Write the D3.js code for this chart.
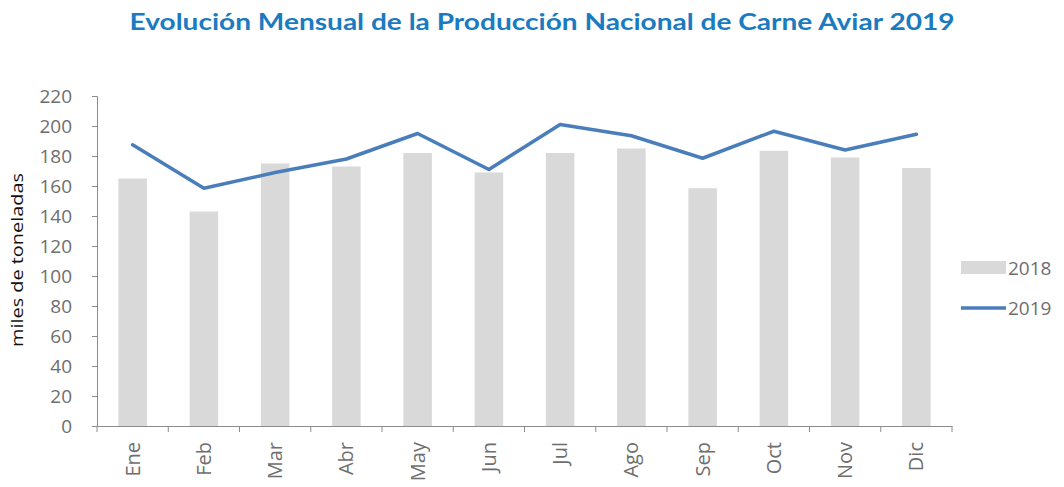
<!DOCTYPE html>
<html><head><meta charset="utf-8">
<script src="https://cdn.jsdelivr.net/npm/d3@7"></script>
<style>body{margin:0;background:#fff}svg{display:block}</style>
</head><body>
<svg id="c" width="1064" height="487"></svg>
<script>
const months = ["Ene","Feb","Mar","Abr","May","Jun","Jul","Ago","Sep","Oct","Nov","Dic"];
const values2018 = [165,143,175,173,182,169,182,185,158.5,183.5,179,172];
const values2019 = [187.5,158.5,169,178,195,171,201,193.5,178.5,196.5,184,194.5];
const yTicks = [0,20,40,60,80,100,120,140,160,180,200,220];
const seriesNames = ["2018","2019"];
const titleText = "Evolución Mensual de la Producción Nacional de Carne Aviar 2019";
const yTitle = "miles de toneladas";

(function(){
const svg = d3.select("#c");
const pLeft = 97, pRight = 952, pTop = 96, pBottom = 426;
const font = "'Open Sans', Lato, sans-serif";
const xb = d3.scaleBand().domain(months).range([pLeft,pRight]);
const y = d3.scaleLinear().domain([0,220]).range([pBottom,pTop]);

// title
svg.append("text").attr("x",542).attr("y",30).attr("text-anchor","middle")
  .attr("font-family","Lato, sans-serif").attr("font-weight","bold").attr("font-size",22)
  .attr("fill","#1b7bc0").attr("textLength",825).attr("lengthAdjust","spacingAndGlyphs").text(titleText);

// bars
svg.append("g").selectAll("rect").data(values2018).join("rect")
  .attr("x",(d,i)=>xb(months[i])+xb.bandwidth()/2-14.25).attr("width",28.5)
  .attr("y",d=>y(d)).attr("height",d=>y(0)-y(d)).attr("fill","#d9d9d9");

// line
const line = d3.line().x((d,i)=>xb(months[i])+xb.bandwidth()/2).y(d=>y(d));
svg.append("path").datum(values2019).attr("d",line).attr("fill","none")
  .attr("stroke","#4a7ebb").attr("stroke-width",3.5).attr("stroke-linejoin","round").attr("stroke-linecap","round");

// y axis
const ya = svg.append("g").attr("transform",`translate(${pLeft},0)`)
  .call(d3.axisLeft(y).tickValues(yTicks).tickSize(5).tickPadding(20));
ya.select(".domain").attr("stroke","#8c8c8c");
ya.selectAll(".tick line").attr("stroke","#8c8c8c");
ya.selectAll(".tick text").attr("font-family",font).attr("font-size",19).attr("fill","#6e6e6e");

// x axis
const xa = svg.append("g").attr("transform",`translate(0,${pBottom})`)
  .call(d3.axisBottom(xb).tickSize(0).tickSizeOuter(0));
xa.select(".domain").attr("stroke","#8c8c8c");
xa.selectAll(".tick text").attr("font-family",font).attr("font-size",20).attr("fill","#6e6e6e")
  .attr("transform","rotate(-90)").attr("text-anchor","end").attr("dy","0.35em").attr("x",-16).attr("y",0);
// boundary ticks
svg.append("g").selectAll("line").data(d3.range(months.length+1)).join("line")
  .attr("x1",i=>pLeft+i*xb.step()).attr("x2",i=>pLeft+i*xb.step())
  .attr("y1",pBottom).attr("y2",pBottom+6).attr("stroke","#8c8c8c");

// y title
svg.append("text").attr("transform","translate(23,260) rotate(-90)").attr("text-anchor","middle")
  .attr("font-family",font).attr("font-size",17).attr("font-weight",500).attr("fill","#111")
  .attr("textLength",174).attr("lengthAdjust","spacingAndGlyphs").text(yTitle);

// legend
svg.append("rect").attr("x",961).attr("y",261).attr("width",45).attr("height",13).attr("fill","#d9d9d9");
svg.append("text").attr("x",1008).attr("y",268).attr("dy","0.35em").attr("font-family",font)
  .attr("font-size",19).attr("fill","#6e6e6e").text(seriesNames[0]);
svg.append("line").attr("x1",961).attr("x2",1006).attr("y1",308).attr("y2",308)
  .attr("stroke","#4a7ebb").attr("stroke-width",3.5);
svg.append("text").attr("x",1008).attr("y",308).attr("dy","0.35em").attr("font-family",font)
  .attr("font-size",19).attr("fill","#6e6e6e").text(seriesNames[1]);
})();
</script>
</body></html>
